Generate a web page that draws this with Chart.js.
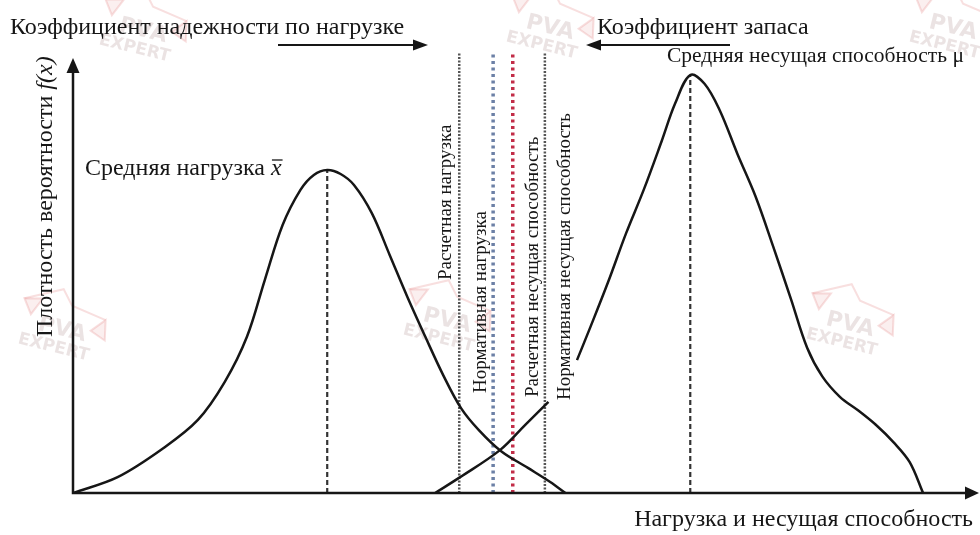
<!DOCTYPE html>
<html>
<head>
<meta charset="utf-8">
<script src="https://cdn.jsdelivr.net/npm/chart.js@4.4.1/dist/chart.umd.min.js"></script>
<style>
  html, body { margin: 0; background: #fff; }
</style>
</head>
<body>
<canvas id="chart" width="980" height="535"></canvas>
<script>
// load density curve (x: load units 0..100, y: density 0..1)
const loadX = [0, 5, 10, 14, 17, 19.5, 21.5, 23.5, 25.5, 27, 28.5, 30, 31.5, 33.5, 35.5, 37.5, 39.5, 41.5, 43.5, 45.5, 48, 51, 53.5, 55.2];
const loadY = [0, 0.036, 0.100, 0.166, 0.252, 0.355, 0.484, 0.609, 0.689, 0.723, 0.734, 0.725, 0.700, 0.636, 0.541, 0.445, 0.355, 0.268, 0.193, 0.143, 0.095, 0.057, 0.025, 0];

// capacity density curve, null leaves a gap under the marker label
const capX = [40.6, 43.4, 47.9, 50.7, 53.3, 55.0, 56.5, 58, 60, 62, 64, 66, 67.5, 69.2, 70.8, 72.5, 74.5, 76.5, 78.5, 80.5, 82.3, 84, 86, 88, 90, 92, 93.8, 95.3];
const capY = [0, 0.036, 0.098, 0.155, 0.207, null, 0.302, 0.377, 0.480, 0.590, 0.690, 0.800, 0.885, 0.950, 0.930, 0.870, 0.770, 0.675, 0.560, 0.440, 0.330, 0.265, 0.218, 0.188, 0.155, 0.115, 0.070, 0];

// means
const meanLoadX = 28.5, meanLoadY = 0.734;
const meanCapX = 69.2, meanCapY = 0.950;

// design / normative values
const markerNames = ['Расчетная нагрузка', 'Нормативная нагрузка', 'Расчетная несущая способность', 'Нормативная несущая способность'];
const markerX = [43.3, 47.1, 49.3, 52.9];
const markerTop = 1.0;

const SERIF = '"Liberation Serif", "Times New Roman", serif';
const INK = '#161616';

const pts = (xs, ys) => xs.map((x, i) => ({ x: x, y: ys[i] }));
const vline = (x, top) => [{ x: x, y: 0 }, { x: x, y: top }];

const markerStyle = [
  { color: '#555', width: 2.5, dash: [2, 1.5] },
  { color: '#6c80a6', width: 3.5, dash: [3, 3.5] },
  { color: '#c22d48', width: 3.5, dash: [3, 3.5] },
  { color: '#555', width: 2.5, dash: [2, 1.5] }
];

const datasets = [
  { data: pts(loadX, loadY), borderColor: INK, borderWidth: 2.5, tension: 0.35, spanGaps: false },
  { data: pts(capX, capY), borderColor: INK, borderWidth: 2.5, tension: 0.35, spanGaps: false },
  { data: vline(meanLoadX, meanLoadY), borderColor: '#333', borderWidth: 2.2, borderDash: [5, 3], tension: 0 },
  { data: vline(meanCapX, meanCapY), borderColor: '#333', borderWidth: 2.2, borderDash: [5, 3], tension: 0 }
];
markerX.forEach((mx, i) => {
  datasets.push({
    data: vline(mx, markerTop),
    borderColor: markerStyle[i].color,
    borderWidth: markerStyle[i].width,
    borderDash: markerStyle[i].dash,
    tension: 0
  });
});

function arrowHead(ctx, x, y, dir, len, half) {
  // dir: 'up' | 'right' | 'left'
  ctx.beginPath();
  if (dir === 'up') {
    ctx.moveTo(x, y); ctx.lineTo(x - half, y + len); ctx.lineTo(x + half, y + len);
  } else if (dir === 'right') {
    ctx.moveTo(x, y); ctx.lineTo(x - len, y - half); ctx.lineTo(x - len, y + half);
  } else {
    ctx.moveTo(x, y); ctx.lineTo(x + len, y - half); ctx.lineTo(x + len, y + half);
  }
  ctx.closePath();
  ctx.fill();
}

function vText(ctx, text, x, y, font) {
  ctx.save();
  ctx.translate(x, y);
  ctx.rotate(-Math.PI / 2);
  ctx.font = font;
  ctx.textAlign = 'left';
  ctx.textBaseline = 'alphabetic';
  ctx.fillText(text, 0, 0);
  ctx.restore();
}

function stamp(ctx, cx, cy) {
  ctx.save();
  ctx.translate(cx, cy);
  ctx.rotate(0.24);
  ctx.strokeStyle = 'rgba(226, 120, 120, 0.24)';
  ctx.fillStyle = 'rgba(226, 120, 120, 0.12)';
  ctx.lineWidth = 2;
  ctx.beginPath();
  ctx.moveTo(-44, -22); ctx.lineTo(-8, -40); ctx.lineTo(4, -26); ctx.lineTo(40, -20);
  ctx.stroke();
  ctx.beginPath();
  ctx.moveTo(-44, -22); ctx.lineTo(-26, -26); ctx.lineTo(-34, -8); ctx.closePath();
  ctx.fill(); ctx.stroke();
  ctx.beginPath();
  ctx.moveTo(40, -20); ctx.lineTo(28, -6); ctx.lineTo(44, 0); ctx.closePath();
  ctx.fill(); ctx.stroke();
  ctx.fillStyle = 'rgba(170, 140, 140, 0.24)';
  ctx.textAlign = 'center';
  ctx.textBaseline = 'middle';
  ctx.font = 'bold 22px "DejaVu Sans", sans-serif';
  ctx.fillText('PVA', 0, 0);
  ctx.font = 'bold 17px "DejaVu Sans", sans-serif';
  ctx.fillText('EXPERT', -4, 19);
  ctx.restore();
}

const backdrop = {
  id: 'backdrop',
  beforeDatasetsDraw(chart) {
    const ctx = chart.ctx;
    [[143, 31], [550, 28], [953, 28], [62, 330], [447, 321], [850, 325]].forEach(p => stamp(ctx, p[0], p[1]));
  }
};

const decor = {
  id: 'decor',
  afterDatasetsDraw(chart) {
    const ctx = chart.ctx;
    const area = chart.chartArea;
    const xs = chart.scales.x;

    // axes with arrowheads
    ctx.save();
    ctx.strokeStyle = INK;
    ctx.fillStyle = INK;
    ctx.lineWidth = 2.5;
    ctx.beginPath();
    ctx.moveTo(area.left, 70);
    ctx.lineTo(area.left, area.bottom);
    ctx.lineTo(966, area.bottom);
    ctx.stroke();
    arrowHead(ctx, area.left, 58, 'up', 15, 6.5);
    arrowHead(ctx, 979, area.bottom, 'right', 14, 6.5);

    // coefficient arrows
    ctx.lineWidth = 2;
    ctx.beginPath();
    ctx.moveTo(278, 45); ctx.lineTo(414, 45);
    ctx.moveTo(600, 45); ctx.lineTo(730, 45);
    ctx.stroke();
    arrowHead(ctx, 428, 45, 'right', 15, 5.5);
    arrowHead(ctx, 586, 45, 'left', 15, 5.5);

    // titles and labels
    ctx.textAlign = 'left';
    ctx.textBaseline = 'alphabetic';
    ctx.font = '24px ' + SERIF;
    ctx.fillText('Коэффициент надежности по нагрузке', 10, 34);
    ctx.fillText('Коэффициент запаса', 597, 34);

    ctx.font = '21.5px ' + SERIF;
    ctx.fillText('Средняя несущая способность μ', 667, 62);

    ctx.font = '24px ' + SERIF;
    const meanLabel = 'Средняя нагрузка ';
    ctx.fillText(meanLabel, 85, 175);
    const xPos = 85 + ctx.measureText(meanLabel).width;
    ctx.font = 'italic 24px ' + SERIF;
    ctx.fillText('x', xPos, 175);
    const xw = ctx.measureText('x').width;
    ctx.lineWidth = 1.3;
    ctx.beginPath();
    ctx.moveTo(xPos + 1, 160); ctx.lineTo(xPos + xw + 1, 160);
    ctx.stroke();

    ctx.font = '24px ' + SERIF;
    ctx.textAlign = 'right';
    ctx.fillText('Нагрузка и несущая способность', 973, 526);

    // y axis title
    ctx.save();
    ctx.translate(52, 337);
    ctx.rotate(-Math.PI / 2);
    ctx.textAlign = 'left';
    ctx.font = '24px ' + SERIF;
    const yLabel = 'Плотность вероятности ';
    ctx.fillText(yLabel, 0, 0);
    const fw = ctx.measureText(yLabel).width;
    ctx.font = 'italic 24px ' + SERIF;
    ctx.fillText('f(x)', fw, 0);
    ctx.restore();

    // marker labels along the lines
    const dx = [-8, -7, 25, 25];
    const bottom = [280, 393, 397, 400];
    markerNames.forEach((name, i) => {
      vText(ctx, name, xs.getPixelForValue(markerX[i]) + dx[i], bottom[i], '19px ' + SERIF);
    });
    ctx.restore();
  }
};

new Chart(document.getElementById('chart'), {
  type: 'line',
  data: { datasets: datasets },
  options: {
    responsive: false,
    animation: false,
    layout: { padding: { left: 73, right: 15, top: 53, bottom: 42 } },
    elements: { point: { radius: 0 }, line: { borderCapStyle: 'butt' } },
    scales: {
      x: { type: 'linear', min: 0, max: 100, display: false },
      y: { type: 'linear', min: 0, max: 1, display: false }
    },
    plugins: {
      legend: { display: false },
      tooltip: { enabled: false }
    }
  },
  plugins: [backdrop, decor]
});
</script>
</body>
</html>
